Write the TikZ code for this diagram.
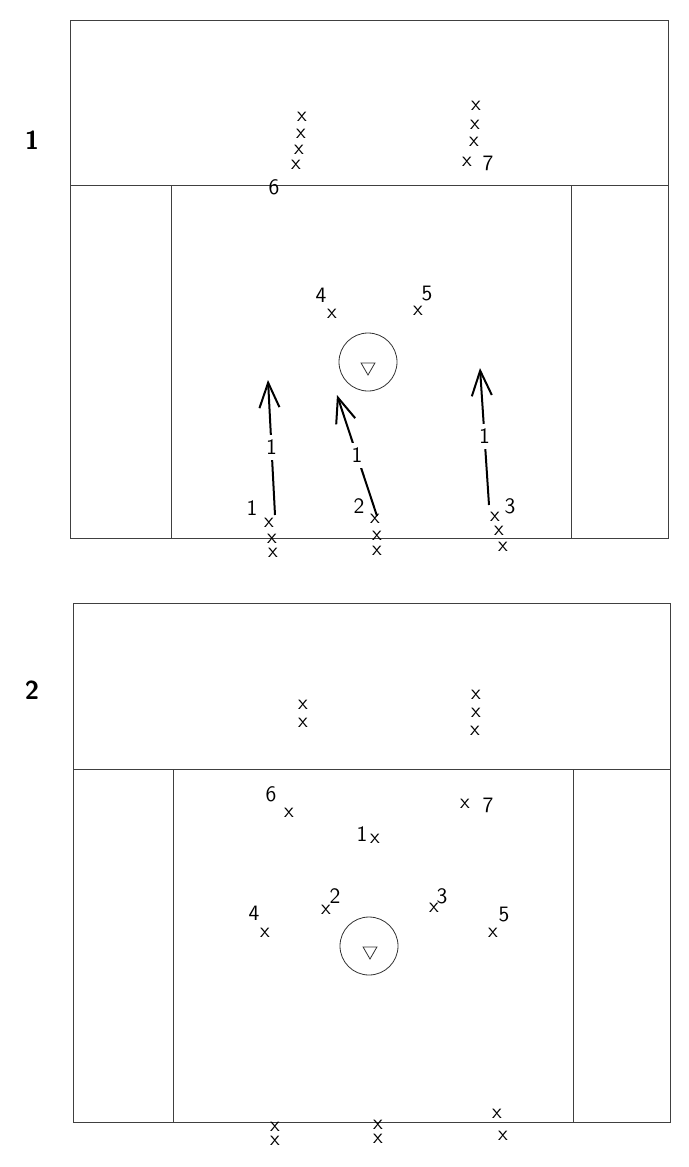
\documentclass[tikz,border=0pt]{standalone}
\usetikzlibrary{arrows.meta, shapes.geometric, positioning}

\begin{document}
\begin{tikzpicture}[x=0.5pt, y=-0.5pt]
        \tikzstyle{field} = [draw=black!75, line width=0.5pt]
        \tikzstyle{player} = [inner sep=0pt, text height=1ex, text depth=0pt, font=\sffamily\fontsize{10.5}{12}\selectfont]
        \tikzstyle{num} = [inner sep=0pt, text depth=0pt, font=\sffamily\fontsize{11}{13}\selectfont]
        \tikzstyle{drill} = [inner sep=0pt, font=\sffamily\bfseries\fontsize{13}{15}\selectfont]
        \tikzstyle{crease} = [circle, draw=black!80, line width=0.4pt, minimum size=29pt, inner sep=0pt]
        \tikzstyle{goal} = [regular polygon, regular polygon sides=3, shape border rotate=180, draw=black!80, line width=0.4pt, minimum size=8pt, inner sep=0pt]
        \tikzstyle{run} = [line width=1pt, -{Straight Barb[length=12.5pt, width=10pt]}]
        \tikzstyle{runlabel} = [fill=white, inner sep=2.5pt, font=\sffamily\fontsize{11}{13}\selectfont]

        \useasboundingbox (0,0) rectangle (689,1167);

        % drill 1
        \node (drillone) [drill] at (32,140) {1};
        \draw[field] (70,20) rectangle (668,538);
        \draw[field] (70,185) -- (668,185);
        \draw[field] (171,185) -- (171,538);
        \draw[field] (571,185) -- (571,538);
        \node (creaseone) [crease] at (368,362) {};
        \node (goalone) [goal] at (368,367) {};

        \node (aa) [player] at (302,117) {x};
        \node (ab) [player] at (301,134) {x};
        \node (ac) [player] at (299,150) {x};
        \node (ad) [player] at (296,165) {x};
        \node (six) [num] at (274,187) {6};
        \node (ba) [player] at (476,106) {x};
        \node (bb) [player] at (475,125) {x};
        \node (bc) [player] at (474,142) {x};
        \node (bd) [player] at (467,162) {x};
        \node (seven) [num] at (488,163) {7};

        \node (four) [num] at (321,295) {4};
        \node (pfour) [player] at (332,314) {x};
        \node (five) [num] at (427,293) {5};
        \node (pfive) [player] at (418,311) {x};

        \node (one) [num] at (252,508) {1};
        \node (ca) [player] at (269,523) {x};
        \node (cb) [player] at (272,539) {x};
        \node (cc) [player] at (273,553) {x};
        \node (two) [num] at (359,506) {2};
        \node (da) [player] at (375,519) {x};
        \node (db) [player] at (377,536) {x};
        \node (dc) [player] at (377,551) {x};
        \node (three) [num] at (510,506) {3};
        \node (ea) [player] at (495,517) {x};
        \node (eb) [player] at (499,531) {x};
        \node (ec) [player] at (503,547) {x};

        \coordinate (runastart) at (275,515);
        \coordinate (runaend) at (268,380);
        \coordinate (runbstart) at (377,516);
        \coordinate (runbend) at (337,395);
        \coordinate (runcstart) at (489,505);
        \coordinate (runcend) at (480,368);
        \draw[run] (runastart) -- node[runlabel] {1} (runaend);
        \draw[run] (runbstart) -- node[runlabel] {1} (runbend);
        \draw[run] (runcstart) -- node[runlabel] {1} (runcend);

        % drill 2
        \node (drilltwo) [drill] at (32,690) {2};
        \draw[field] (73,603) rectangle (670,1122);
        \draw[field] (73,769) -- (670,769);
        \draw[field] (173,769) -- (173,1122);
        \draw[field] (573,769) -- (573,1122);
        \node (creasetwo) [crease] at (369,946) {};
        \node (goaltwo) [goal] at (370,951) {};

        \node (fa) [player] at (303,705) {x};
        \node (fb) [player] at (303,723) {x};
        \node (ga) [player] at (476,695) {x};
        \node (gb) [player] at (476,713) {x};
        \node (gc) [player] at (475,731) {x};

        \node (sixtwo) [num] at (271,794) {6};
        \node (psixtwo) [player] at (289,813) {x};
        \node (psevtwo) [player] at (465,804) {x};
        \node (seventwo) [num] at (488,805) {7};
        \node (onetwo) [num] at (362,834) {1};
        \node (ponetwo) [player] at (375,839) {x};
        \node (twotwo) [num] at (335,896) {2};
        \node (ptwotwo) [player] at (326,910) {x};
        \node (threetwo) [num] at (442,896) {3};
        \node (pthreetwo) [player] at (434,908) {x};
        \node (fourtwo) [num] at (254,913) {4};
        \node (pfourtwo) [player] at (265,933) {x};
        \node (fivetwo) [num] at (504,914) {5};
        \node (pfivetwo) [player] at (493,933) {x};

        \node (ha) [player] at (275,1127) {x};
        \node (hb) [player] at (275,1141) {x};
        \node (ia) [player] at (378,1125) {x};
        \node (ib) [player] at (378,1139) {x};
        \node (ja) [player] at (497,1114) {x};
        \node (jb) [player] at (503,1136) {x};
    \end{tikzpicture}
\end{document}
